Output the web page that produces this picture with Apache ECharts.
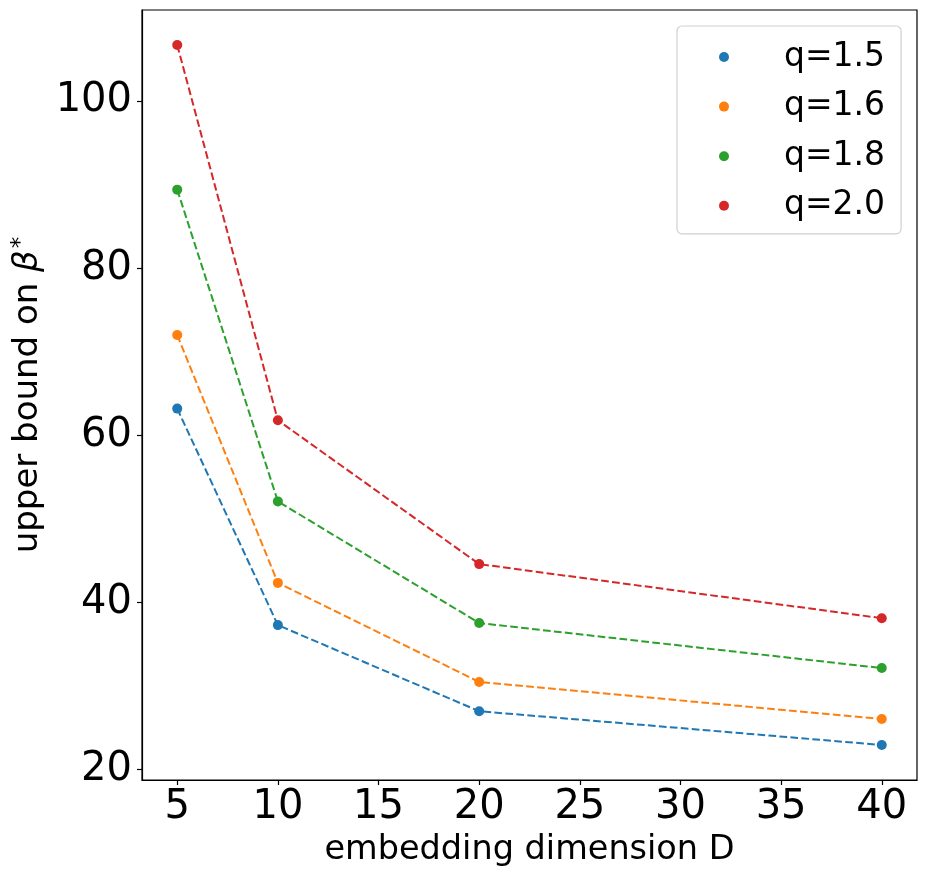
<!DOCTYPE html>
<html>
<head>
<meta charset="utf-8">
<script src="https://cdn.jsdelivr.net/npm/echarts@6/dist/echarts.min.js"></script>
<style>
  html, body { margin: 0; padding: 0; background: #fff; }
  #chart { width: 926px; height: 876px; }
</style>
</head>
<body>
<div id="chart"></div>
<script>
// embedding dimension D
const dims = [5, 10, 20, 40];
const xTicks = [5, 10, 15, 20, 25, 30, 35, 40];
const yTicks = [20, 40, 60, 80, 100];

const seriesNames = ['q=1.5', 'q=1.6', 'q=1.8', 'q=2.0'];
const q15 = [63.2, 37.3, 27.0, 22.96];
const q16 = [72.0, 42.35, 30.5, 26.07];
const q18 = [89.4, 52.1, 37.55, 32.16];
const q20 = [106.7, 61.8, 44.6, 38.13];
const colors = ['#1f77b4', '#ff7f0e', '#2ca02c', '#d62728'];

const font = 'DejaVu Sans';

function makeSeries(name, values, color) {
  return {
    name: name,
    type: 'line',
    data: dims.map(function (d, i) { return [d, values[i]]; }),
    symbol: 'circle',
    symbolSize: 10,
    itemStyle: { color: color },
    lineStyle: { color: color, width: 2, type: [7.7, 3.3] },
    emphasis: { disabled: true },
    animation: false
  };
}

const chart = echarts.init(document.getElementById('chart'), null, { renderer: 'canvas' });
chart.setOption({
  backgroundColor: '#fff',
  textStyle: { fontFamily: font },
  grid: {
    left: 142, right: 9, top: 10, bottom: 96,
    show: true, borderColor: '#000', borderWidth: 1.2
  },
  legend: {
    orient: 'vertical',
    left: 677, top: 26,
    icon: 'circle',
    itemWidth: 10, itemHeight: 10,
    itemGap: 13.6,
    padding: [13, 16, 10, 42],
    borderColor: '#d0d0d0', borderWidth: 1.2, borderRadius: 5,
    backgroundColor: 'rgba(255,255,255,0.8)',
    textStyle: { fontFamily: font, fontSize: 33, color: '#000', lineHeight: 36, padding: [0, 0, 0, 50] },
    data: seriesNames
  },
  xAxis: {
    type: 'value',
    min: 3.25, max: 41.75,
    name: 'embedding dimension D',
    nameLocation: 'middle',
    nameGap: 49,
    nameTextStyle: { fontFamily: font, fontSize: 33.5, color: '#000' },
    axisLine: { show: true, lineStyle: { color: '#000', width: 1.2 } },
    axisTick: { show: true, inside: false, length: 5, lineStyle: { color: '#000', width: 1.2 }, customValues: xTicks },
    axisLabel: { fontFamily: font, fontSize: 40, color: '#000', margin: 8, customValues: xTicks },
    splitLine: { show: false }
  },
  yAxis: {
    type: 'value',
    min: 18.77, max: 110.89,
    name: '{t|upper bound on }{b|β}{s|*}',
    nameLocation: 'middle',
    nameGap: 92,
    nameTextStyle: {
      fontFamily: font, fontSize: 34, color: '#000',
      rich: {
        t: { fontFamily: font, fontSize: 34, color: '#000' },
        b: { fontFamily: font, fontSize: 34, fontStyle: 'italic', color: '#000' },
        s: { fontFamily: font, fontSize: 23, color: '#000', verticalAlign: 'top', padding: [0, 0, 14, 2] }
      }
    },
    axisLine: { show: true, lineStyle: { color: '#000', width: 1.2 } },
    axisTick: { show: true, inside: false, length: 5, lineStyle: { color: '#000', width: 1.2 }, customValues: yTicks },
    axisLabel: { fontFamily: font, fontSize: 40, color: '#000', margin: 10, customValues: yTicks },
    splitLine: { show: false }
  },
  series: [
    makeSeries(seriesNames[0], q15, colors[0]),
    makeSeries(seriesNames[1], q16, colors[1]),
    makeSeries(seriesNames[2], q18, colors[2]),
    makeSeries(seriesNames[3], q20, colors[3])
  ]
});

window.addEventListener('resize', function () { chart.resize(); });
</script>
</body>
</html>
